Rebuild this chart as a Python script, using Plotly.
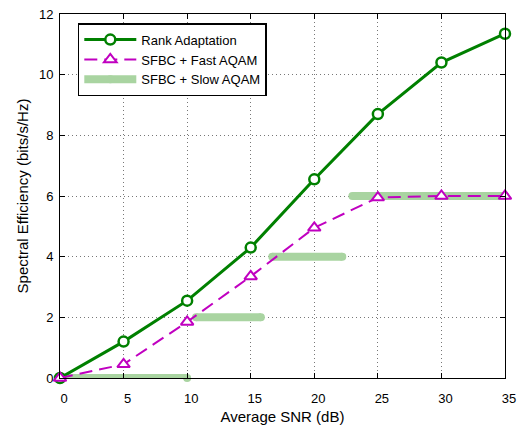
import plotly.graph_objects as go

snr = [0, 5, 10, 15, 20, 25, 30, 35]
rank_adapt = [0.0, 1.2, 2.55, 4.3, 6.55, 8.7, 10.4, 11.35]
fast_aqam = [0.0, 0.45, 1.85, 3.35, 4.95, 5.95, 6.0, 6.0]
# slow AQAM: piecewise constant segments (None separates segments)
slow_x = [0, 10, None, 10.7, 15.8, None, 16.7, 22.2, None, 23.0, 35]
slow_y = [0, 0, None, 2, 2, None, 4, 4, None, 6, 6]

x_ticks = [0, 5, 10, 15, 20, 25, 30, 35]
y_ticks = [0, 2, 4, 6, 8, 10, 12]

font = "Liberation Sans, Arial, sans-serif"

fig = go.Figure()
fig.add_trace(go.Scatter(
    x=slow_x, y=slow_y, mode="lines+markers", name="SFBC + Slow AQAM",
    line=dict(color="#a9d4a1", width=8), connectgaps=False,
    marker=dict(symbol="circle", size=8, color="#a9d4a1", line=dict(width=0)),
    cliponaxis=False, legendrank=3,
))
fig.add_trace(go.Scatter(
    x=snr, y=rank_adapt, mode="lines+markers", name="Rank Adaptation",
    line=dict(color="#008000", width=3),
    marker=dict(symbol="circle", size=10, color="white",
                line=dict(width=2.5, color="#008000")),
    cliponaxis=False, legendrank=1,
))
fig.add_trace(go.Scatter(
    x=snr, y=fast_aqam, mode="lines+markers", name="SFBC + Fast AQAM",
    line=dict(color="#c000c0", width=2, dash="13px,7px"),
    marker=dict(symbol="triangle-up", size=11, color="white",
                line=dict(width=2, color="#c000c0")),
    cliponaxis=False, legendrank=2,
))

axis_common = dict(
    showline=True, linecolor="black", linewidth=1, mirror="ticks",
    ticks="inside", ticklen=5, tickcolor="black",
    showgrid=True, gridcolor="#777777", griddash="1px,3px", gridwidth=1,
    zeroline=False, tickfont=dict(family=font, size=13, color="black"),
    automargin=False,
)

fig.update_layout(
    width=521, height=425,
    margin=dict(l=60, r=16, t=14, b=47),
    plot_bgcolor="white", paper_bgcolor="white",
    font=dict(family=font, size=13, color="black"),
    showlegend=True,
    legend=dict(
        x=0.04, y=0.975, xanchor="left", yanchor="top",
        bgcolor="white", bordercolor="black", borderwidth=1.5,
        font=dict(family=font, size=13, color="black"),
        traceorder="normal", itemwidth=52,
    ),
    xaxis=dict(range=[0, 35], tickvals=x_ticks, ticklabelshift=4,
               ticklabelstandoff=8,
               title=dict(text="Average SNR (dB)", standoff=10,
                          font=dict(family=font, size=15)),
               **axis_common),
    yaxis=dict(range=[0, 12], tickvals=y_ticks, ticklabelstandoff=3,
               title=dict(text="Spectral Efficiency (bits/s/Hz)", standoff=6,
                          font=dict(family=font, size=15)),
               **axis_common),
)

fig.write_html(
    "out.html",
    config={"displayModeBar": False},
    post_script="document.body.style.margin='0';document.body.style.overflow='hidden';",
)
